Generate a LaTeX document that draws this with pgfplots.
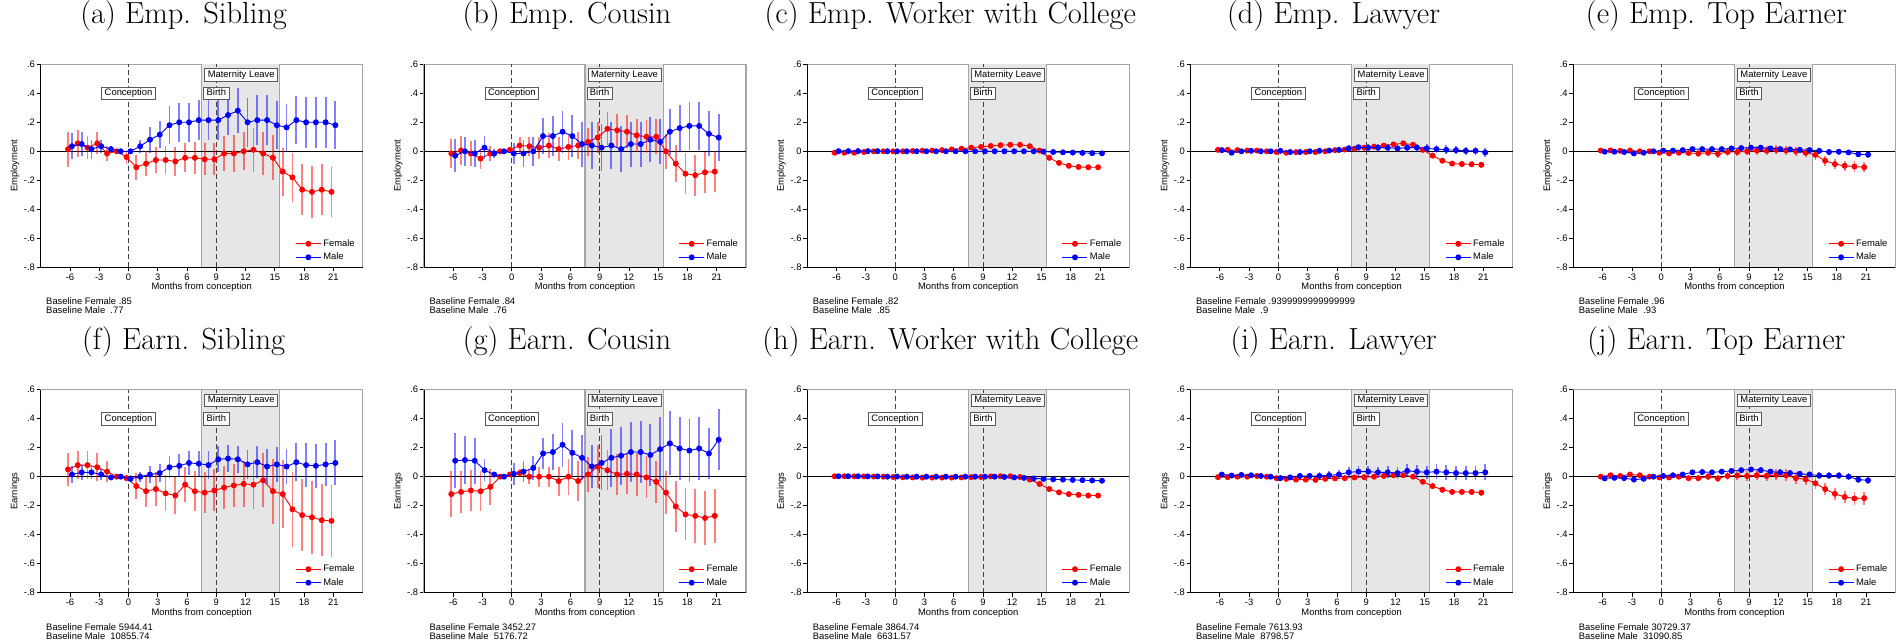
\documentclass[border=0pt]{standalone}
\usepackage{pgfplots}
\pgfplotsset{compat=1.18}
\usepackage{pgfplotstable}
\usepackage{fontspec}
\newfontfamily\arial{Liberation Sans}
\newcommand\sansnine{\arial\fontsize{9.4}{11}\selectfont}
\definecolor{leavegray}{RGB}{230,230,230}
\definecolor{framegray}{RGB}{165,165,165}

% ---------- data: t  y  e (half CI) ----------
\pgfplotstableread{
t y e
-6 0.015 0.12
-5 0.055 0.094
-4 0.025 0.078
-3 0.055 0.077
-2 -0.015 0.05
-1 0 0.01
0 -0.04 0.045
1 -0.11 0.085
2 -0.085 0.085
3 -0.06 0.09
4 -0.06 0.095
5 -0.07 0.1
6 -0.045 0.1
7 -0.045 0.11
8 -0.055 0.11
9 -0.055 0.11
10 -0.015 0.12
11 -0.015 0.125
12 0 0.13
13 0.01 0.15
14 -0.015 0.15
15 -0.045 0.155
16 -0.14 0.165
17 -0.18 0.167
18 -0.265 0.176
19 -0.28 0.178
20 -0.265 0.177
21 -0.28 0.175
}\aF
\pgfplotstableread{
t y e
-6 0.035 0.09
-5 0.05 0.08
-4 0.015 0.065
-3 0.035 0.045
-2 0.015 0.02
-1 0 0.005
0 0 0.01
1 0.035 0.045
2 0.08 0.09
3 0.115 0.095
4 0.18 0.13
5 0.2 0.135
6 0.2 0.135
7 0.215 0.14
8 0.215 0.14
9 0.215 0.14
10 0.25 0.14
11 0.28 0.155
12 0.2 0.17
13 0.215 0.175
14 0.215 0.175
15 0.18 0.165
16 0.165 0.16
17 0.215 0.165
18 0.2 0.175
19 0.2 0.175
20 0.2 0.175
21 0.18 0.165
}\aM
\pgfplotstableread{
t y e
-6 -0.015 0.1
-5 0.005 0.1
-4 -0.015 0.085
-3 -0.05 0.07
-2 -0.015 0.05
-1 0 0.01
0 0.01 0.02
1 0.04 0.06
2 0.035 0.065
3 0.025 0.075
4 0.04 0.085
5 0.015 0.085
6 0.03 0.09
7 0.04 0.09
8 0.065 0.095
9 0.095 0.11
10 0.155 0.115
11 0.145 0.115
12 0.135 0.115
13 0.11 0.115
14 0.1 0.115
15 0.1 0.12
16 0.0 0.12
17 -0.085 0.13
18 -0.155 0.14
19 -0.165 0.14
20 -0.145 0.14
21 -0.14 0.14
}\bF
\pgfplotstableread{
t y e
-6 -0.03 0.115
-5 0.0 0.1
-4 -0.015 0.095
-3 0.025 0.08
-2 -0.015 0.03
-1 0 0.005
0 -0.015 0.07
1 -0.015 0.09
2 0.0 0.1
3 0.105 0.125
4 0.105 0.135
5 0.135 0.145
6 0.105 0.145
7 0.05 0.155
8 0.04 0.16
9 0.025 0.16
10 0.04 0.165
11 0.015 0.16
12 0.05 0.155
13 0.05 0.155
14 0.08 0.155
15 0.065 0.155
16 0.135 0.16
17 0.16 0.16
18 0.175 0.165
19 0.175 0.165
20 0.12 0.155
21 0.095 0.16
}\bM
\pgfplotstableread{
t y e
-6 -0.01 0.005
-5 -0.01 0.005
-4 -0.01 0.005
-3 -0.005 0.005
-2 0 0.004
-1 0 0.003
0 0 0.003
1 0 0.004
2 0.002 0.004
3 0.004 0.005
4 0.005 0.005
5 0.008 0.005
6 0.013 0.005
7 0.018 0.006
8 0.025 0.006
9 0.03 0.006
10 0.037 0.007
11 0.042 0.007
12 0.045 0.007
13 0.045 0.007
14 0.035 0.007
15 0.005 0.007
16 -0.045 0.008
17 -0.08 0.008
18 -0.1 0.008
19 -0.108 0.008
20 -0.11 0.008
21 -0.11 0.008
}\cF
\pgfplotstableread{
t y e
-6 0.001 0.004
-5 0.001 0.004
-4 0.001 0.004
-3 0.001 0.004
-2 0.001 0.003
-1 0 0.003
0 0 0.003
1 0 0.004
2 0 0.004
3 0 0.004
4 0 0.004
5 0 0.004
6 0 0.004
7 0 0.004
8 0 0.004
9 0 0.004
10 0 0.004
11 0 0.004
12 0 0.004
13 0 0.004
14 0 0.004
15 -0.002 0.004
16 -0.005 0.004
17 -0.007 0.004
18 -0.009 0.004
19 -0.011 0.004
20 -0.013 0.004
21 -0.014 0.004
}\cM
\pgfplotstableread{
t y e
-6 0.01 0.01
-5 0.01 0.01
-4 0.008 0.01
-3 0.005 0.01
-2 0.005 0.008
-1 0 0.005
0 -0.005 0.008
1 -0.01 0.01
2 -0.006 0.01
3 -0.005 0.01
4 -0.005 0.012
5 0.0 0.012
6 0.008 0.012
7 0.012 0.013
8 0.018 0.014
9 0.025 0.015
10 0.032 0.015
11 0.04 0.016
12 0.048 0.016
13 0.055 0.017
14 0.045 0.017
15 0.01 0.018
16 -0.03 0.018
17 -0.065 0.019
18 -0.085 0.019
19 -0.088 0.02
20 -0.09 0.02
21 -0.093 0.02
}\dF
\pgfplotstableread{
t y e
-6 0.008 0.015
-5 -0.01 0.015
-4 0.0 0.012
-3 0.003 0.012
-2 0.0 0.01
-1 0 0.005
0 0.003 0.01
1 -0.005 0.012
2 -0.005 0.013
3 0.0 0.014
4 0.003 0.015
5 0.005 0.018
6 0.01 0.02
7 0.02 0.022
8 0.028 0.023
9 0.025 0.025
10 0.025 0.025
11 0.025 0.026
12 0.02 0.027
13 0.025 0.027
14 0.025 0.028
15 0.02 0.028
16 0.015 0.03
17 0.01 0.03
18 0.008 0.03
19 0.003 0.03
20 0.003 0.03
21 -0.008 0.03
}\dM
\pgfplotstableread{
t y e
-6 0.005 0.015
-5 0.006 0.015
-4 0.003 0.013
-3 0.005 0.013
-2 0.0 0.01
-1 0 0.005
0 -0.01 0.012
1 -0.015 0.015
2 -0.01 0.018
3 -0.012 0.02
4 -0.015 0.022
5 -0.01 0.022
6 -0.018 0.025
7 -0.005 0.025
8 -0.005 0.027
9 0.0 0.028
10 0.005 0.03
11 0.005 0.03
12 0.01 0.03
13 0.006 0.032
14 0.0 0.032
15 -0.01 0.032
16 -0.025 0.033
17 -0.065 0.035
18 -0.088 0.035
19 -0.1 0.036
20 -0.105 0.036
21 -0.11 0.036
}\eF
\pgfplotstableread{
t y e
-6 -0.003 0.01
-5 -0.003 0.01
-4 -0.005 0.01
-3 -0.015 0.01
-2 -0.01 0.008
-1 0 0.005
0 0.005 0.008
1 0.005 0.01
2 0.008 0.011
3 0.015 0.012
4 0.015 0.013
5 0.015 0.014
6 0.015 0.015
7 0.02 0.015
8 0.022 0.016
9 0.025 0.017
10 0.025 0.018
11 0.02 0.018
12 0.015 0.018
13 0.013 0.019
14 0.01 0.019
15 0.008 0.019
16 0.003 0.02
17 -0.005 0.02
18 -0.003 0.02
19 -0.008 0.02
20 -0.02 0.02
21 -0.023 0.02
}\eM
\pgfplotstableread{
t y e
-6 0.05 0.115
-5 0.08 0.095
-4 0.08 0.095
-3 0.065 0.095
-2 0.035 0.07
-1 0 0.01
0 -0.01 0.02
1 -0.065 0.09
2 -0.1 0.11
3 -0.085 0.115
4 -0.115 0.125
5 -0.13 0.13
6 -0.055 0.12
7 -0.1 0.14
8 -0.11 0.14
9 -0.095 0.145
10 -0.075 0.15
11 -0.06 0.15
12 -0.05 0.16
13 -0.055 0.17
14 -0.025 0.185
15 -0.1 0.225
16 -0.12 0.235
17 -0.225 0.26
18 -0.265 0.25
19 -0.28 0.25
20 -0.3 0.25
21 -0.305 0.25
}\fF
\pgfplotstableread{
t y e
-6 0.015 0.06
-5 0.03 0.05
-4 0.03 0.045
-3 0.015 0.035
-2 -0.005 0.015
-1 0 0.005
0 -0.015 0.025
1 0.0 0.035
2 0.015 0.06
3 0.025 0.06
4 0.065 0.075
5 0.075 0.08
6 0.095 0.085
7 0.09 0.09
8 0.08 0.095
9 0.12 0.09
10 0.125 0.095
11 0.12 0.095
12 0.085 0.1
13 0.1 0.11
14 0.07 0.12
15 0.085 0.12
16 0.07 0.12
17 0.1 0.13
18 0.08 0.15
19 0.075 0.15
20 0.085 0.15
21 0.095 0.155
}\fM
\pgfplotstableread{
t y e
-6 -0.12 0.16
-5 -0.105 0.145
-4 -0.095 0.14
-3 -0.1 0.14
-2 -0.07 0.125
-1 0 0.01
0 0.015 0.02
1 0.025 0.03
2 0.0 0.05
3 0.0 0.07
4 0.0 0.07
5 -0.03 0.1
6 0.0 0.125
7 -0.03 0.135
8 0.015 0.12
9 0.07 0.15
10 0.045 0.14
11 0.015 0.14
12 0.02 0.14
13 0.015 0.145
14 -0.005 0.145
15 -0.035 0.145
16 -0.11 0.15
17 -0.205 0.175
18 -0.26 0.18
19 -0.27 0.185
20 -0.285 0.185
21 -0.27 0.185
}\gF
\pgfplotstableread{
t y e
-6 0.11 0.19
-5 0.115 0.165
-4 0.11 0.16
-3 0.045 0.075
-2 0.015 0.02
-1 0 0.005
0 0.02 0.075
1 0.035 0.07
2 0.06 0.08
3 0.16 0.11
4 0.17 0.125
5 0.22 0.15
6 0.165 0.16
7 0.13 0.155
8 0.07 0.15
9 0.095 0.19
10 0.13 0.2
11 0.145 0.2
12 0.17 0.21
13 0.17 0.215
14 0.15 0.215
15 0.19 0.22
16 0.23 0.22
17 0.195 0.22
18 0.18 0.22
19 0.195 0.215
20 0.16 0.175
21 0.255 0.21
}\gM
\pgfplotstableread{
t y e
-6 0.003 0.004
-5 0.003 0.004
-4 0.002 0.004
-3 0.002 0.004
-2 0.001 0.003
-1 0 0.003
0 -0.002 0.003
1 -0.004 0.004
2 -0.005 0.004
3 -0.006 0.004
4 -0.006 0.004
5 -0.006 0.004
6 -0.006 0.004
7 -0.005 0.005
8 -0.003 0.005
9 -0.002 0.005
10 0.002 0.005
11 0.003 0.005
12 0.003 0.005
13 -0.002 0.005
14 -0.02 0.006
15 -0.05 0.006
16 -0.085 0.007
17 -0.108 0.007
18 -0.12 0.007
19 -0.125 0.007
20 -0.13 0.007
21 -0.13 0.007
}\hF
\pgfplotstableread{
t y e
-6 0.003 0.004
-5 0.003 0.004
-4 0.003 0.004
-3 0.002 0.004
-2 0.002 0.003
-1 0 0.003
0 0.001 0.003
1 0.0 0.004
2 0.0 0.004
3 0.0 0.004
4 0.0 0.004
5 0.0 0.004
6 0.0 0.004
7 0.0 0.004
8 0.0 0.004
9 0.0 0.004
10 0.0 0.004
11 -0.002 0.004
12 -0.005 0.004
13 -0.008 0.004
14 -0.012 0.004
15 -0.015 0.004
16 -0.018 0.004
17 -0.02 0.004
18 -0.022 0.004
19 -0.024 0.004
20 -0.026 0.004
21 -0.028 0.004
}\hM
\pgfplotstableread{
t y e
-6 -0.003 0.008
-5 -0.003 0.008
-4 0.0 0.008
-3 0.0 0.008
-2 0.005 0.007
-1 0 0.004
0 -0.01 0.008
1 -0.015 0.01
2 -0.02 0.01
3 -0.02 0.012
4 -0.022 0.012
5 -0.015 0.013
6 -0.012 0.013
7 -0.01 0.014
8 -0.005 0.014
9 -0.003 0.015
10 0.0 0.015
11 0.005 0.016
12 0.01 0.016
13 0.01 0.017
14 0.0 0.017
15 -0.035 0.018
16 -0.065 0.019
17 -0.09 0.02
18 -0.105 0.02
19 -0.105 0.02
20 -0.105 0.02
21 -0.11 0.02
}\iF
\pgfplotstableread{
t y e
-6 0.015 0.012
-5 0.008 0.01
-4 0.012 0.01
-3 0.01 0.01
-2 0.005 0.008
-1 0 0.004
0 -0.01 0.012
1 -0.005 0.015
2 0.005 0.02
3 0.005 0.022
4 0.005 0.025
5 0.01 0.028
6 0.015 0.03
7 0.03 0.035
8 0.035 0.038
9 0.035 0.04
10 0.03 0.04
11 0.03 0.042
12 0.025 0.042
13 0.04 0.045
14 0.035 0.045
15 0.03 0.045
16 0.035 0.05
17 0.03 0.05
18 0.025 0.05
19 0.025 0.05
20 0.025 0.05
21 0.03 0.055
}\iM
\pgfplotstableread{
t y e
-6 0.0 0.015
-5 0.01 0.015
-4 0.005 0.015
-3 0.015 0.015
-2 0.01 0.012
-1 0 0.005
0 -0.005 0.012
1 -0.005 0.015
2 0.0 0.018
3 -0.01 0.02
4 -0.01 0.022
5 0.0 0.025
6 -0.012 0.027
7 0.005 0.03
8 0.008 0.032
9 0.005 0.035
10 0.01 0.035
11 0.005 0.037
12 0.012 0.038
13 0.01 0.04
14 -0.01 0.04
15 -0.018 0.04
16 -0.045 0.04
17 -0.085 0.042
18 -0.118 0.043
19 -0.14 0.043
20 -0.15 0.044
21 -0.148 0.045
}\jF
\pgfplotstableread{
t y e
-6 -0.012 0.01
-5 -0.008 0.01
-4 -0.01 0.01
-3 -0.02 0.01
-2 -0.015 0.008
-1 0 0.005
0 0.005 0.008
1 0.01 0.01
2 0.015 0.012
3 0.03 0.013
4 0.032 0.014
5 0.03 0.015
6 0.035 0.016
7 0.04 0.017
8 0.045 0.018
9 0.05 0.02
10 0.045 0.02
11 0.035 0.02
12 0.03 0.021
13 0.025 0.022
14 0.02 0.022
15 0.015 0.023
16 0.008 0.024
17 0.008 0.025
18 0.008 0.025
19 0.0 0.025
20 -0.02 0.025
21 -0.025 0.025
}\jM

\pgfplotsset{
  panel/.style={
    anchor=south west,
    scale only axis, width=322pt, height=203pt,
    xmin=-9, xmax=24, ymin=-0.8, ymax=0.6,
    clip mode=individual,
    xtick={-6,-3,0,3,6,9,12,15,18,21},
    xticklabels={-6,-3,0,3,6,9,12,15,18,21},
    ytick={-0.8,-0.6,-0.4,-0.2,0,0.2,0.4,0.6},
    yticklabels={-.8,-.6,-.4,-.2,0,.2,.4,.6},
    tick label style={font=\sansnine},
    y tick label style={inner xsep=1.6pt},
    x tick label style={inner ysep=2.2pt},
    tick pos=left, tick align=outside,
    major tick length=4pt,
    tick style={black, line width=0.8pt},
    axis line style={framegray, line width=1.4pt},
    xlabel={Months from conception},
    xlabel style={at={(axis description cs:0.5,-0.099)}, anchor=center, font=\sansnine},
    ylabel style={at={(axis description cs:-0.08,0.5)}, anchor=center, rotate=0, font=\sansnine},
    title style={at={(0.5,1)}, anchor=base, yshift=34.3pt, xshift=-18pt,
      font=\fontsize{30.5}{34}\selectfont},
    legend style={at={(0.985,0.152)}, anchor=north east, draw=none, fill=none,
      font=\sansnine, row sep=1.2pt, inner sep=1pt},
    legend cell align=left,
    legend image code/.code={\draw[mark repeat=2,mark phase=2]
      plot coordinates {(0pt,0pt) (12.5pt,0pt) (25pt,0pt)};},
  },
  fem/.style={red, line width=0.9pt, mark=*, mark size=2.5pt,
    mark options={solid, fill=red, draw=red},
    error bars/.cd, y dir=both, y explicit, error mark=none,
    error bar style={line width=1.8pt, red, opacity=0.5}},
  mal/.style={blue, line width=0.9pt, mark=*, mark size=2.5pt,
    mark options={solid, fill=blue, draw=blue},
    error bars/.cd, y dir=both, y explicit, error mark=none,
    error bar style={line width=1.8pt, blue, opacity=0.5}},
}
\tikzset{annot/.style={draw=black!65, fill=white, font=\sansnine, line width=0.8pt,
  inner xsep=3pt, inner ysep=1.8pt, text height=7pt, text depth=2pt}}

\newcommand{\panel}[7]{%
\begin{axis}[panel, at={(#1)}, title={#2}, ylabel={#3}]
  \fill[fill=leavegray] (axis cs:7.5,-0.8) rectangle (axis cs:15.5,0.6);
  \draw[draw=framegray, line width=1.1pt] (axis cs:7.5,-0.8) -- (axis cs:7.5,0.6);
  \draw[draw=framegray, line width=1.1pt] (axis cs:15.5,-0.8) -- (axis cs:15.5,0.6);
  \draw[black!75, line width=0.8pt, dash pattern=on 5pt off 3pt] (axis cs:0,-0.8) -- (axis cs:0,0.6);
  \draw[black!75, line width=0.8pt, dash pattern=on 5pt off 3pt] (axis cs:9,-0.8) -- (axis cs:9,0.6);
  \draw[black, line width=0.8pt] (axis cs:-9,0) -- (axis cs:24,0);
  \draw[black, line width=0.9pt] (rel axis cs:0,1) -- (rel axis cs:0,0) -- (rel axis cs:1,0);
  \addplot[fem] table[x expr=\thisrow{t}-0.2, y=y, y error=e] {#4};
  \addlegendentry{Female}
  \addplot[mal] table[x expr=\thisrow{t}+0.2, y=y, y error=e] {#5};
  \addlegendentry{Male}
  \node[annot] at (axis cs:0,0.4) {Conception};
  \node[annot] at (axis cs:9,0.4) {Birth};
  \node[annot] at (axis cs:11.55,0.527) {Maternity Leave};
  \node[anchor=base west, font=\sansnine, xshift=2pt, yshift=-37.5pt] at (rel axis cs:0,0) {Baseline Female #6};
  \node[anchor=base west, font=\sansnine, xshift=2pt, yshift=-46.5pt] at (rel axis cs:0,0) {Baseline Male\ \ #7};
\end{axis}}

\begin{document}
\begin{tikzpicture}[x=1pt,y=1pt]
\useasboundingbox (0,0) rectangle (1899,643);
\panel{40.7pt,375.7pt}{(a) Emp. Sibling}{Employment}{\aF}{\aM}{.85}{.77}
\panel{424.0pt,375.7pt}{(b) Emp. Cousin}{Employment}{\bF}{\bM}{.84}{.76}
\panel{807.3pt,375.7pt}{(c) Emp. Worker with College}{Employment}{\cF}{\cM}{.82}{.85}
\panel{1190.6pt,375.7pt}{(d) Emp. Lawyer}{Employment}{\dF}{\dM}{.9399999999999999}{.9}
\panel{1573.4pt,375.7pt}{(e) Emp. Top Earner}{Employment}{\eF}{\eM}{.96}{.93}
\panel{40.7pt,50.3pt}{(f) Earn. Sibling}{Earnings}{\fF}{\fM}{5944.41}{10855.74}
\panel{424.0pt,50.3pt}{(g) Earn. Cousin}{Earnings}{\gF}{\gM}{3452.27}{5176.72}
\panel{807.3pt,50.3pt}{(h) Earn. Worker with College}{Earnings}{\hF}{\hM}{3864.74}{6631.57}
\panel{1190.6pt,50.3pt}{(i) Earn. Lawyer}{Earnings}{\iF}{\iM}{7613.93}{8798.57}
\panel{1573.4pt,50.3pt}{(j) Earn. Top Earner}{Earnings}{\jF}{\jM}{30729.37}{31090.85}
\end{tikzpicture}
\end{document}
